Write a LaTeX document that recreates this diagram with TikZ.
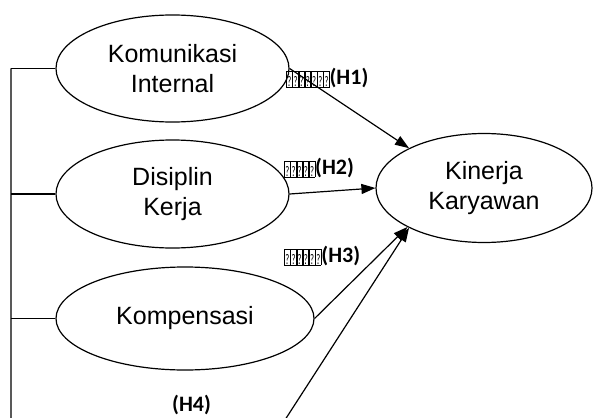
\documentclass[tikz,border=0pt]{standalone}
\usepackage{fontspec}
\usepackage{graphicx}
\setmainfont{Liberation Sans}
\newfontfamily\hypfont{Carlito}
\usetikzlibrary{arrows.meta,shapes.geometric}
% box shown for a glyph the font lacks
\newcommand{\nd}{\raisebox{-2pt}{\setlength{\fboxsep}{0pt}\setlength{\fboxrule}{0.6pt}\fbox{\rule{0pt}{15pt}\makebox[5pt]{\resizebox{4pt}{10pt}{\mdseries ?}}}}}
\begin{document}
\begin{tikzpicture}[x=1pt,y=-1pt,
  var/.style={draw,ellipse,line width=1.2pt,inner sep=0pt,align=center,font=\fontsize{25}{30}\selectfont},
  hyp/.style={inner sep=0pt,anchor=west,font=\hypfont\bfseries\fontsize{22}{22}\selectfont},
  link/.style={line width=1.2pt,-{Triangle[length=14pt,width=10pt]}}]
\useasboundingbox (0,0) rectangle (593,417);
\clip (0,0) rectangle (593,417);
% variables
\node[var,minimum width=233pt,minimum height=107pt] (kom) at (172.5,68.5) {Komunikasi\\Internal};
\node[var,minimum width=233pt,minimum height=108pt] (dis) at (172.5,194) {Disiplin\\Kerja};
\node[var,minimum width=258pt,minimum height=103pt] (komp) at (185,318.5) {Kompensasi};
\node[var,minimum width=216pt,minimum height=109pt] (kin) at (484,188) {Kinerja\\Karyawan};
% left bracket and H4 line
\coordinate (top) at (11,68.5);
\coordinate (bot) at (11,440);
\coordinate (h4s) at (272,440);
\draw[line width=1.2pt] (kom.west) -- (top);
\draw[line width=1.2pt] (dis.west) -- (dis.west -| top);
\draw[line width=1.2pt] (komp.west) -- (komp.west -| top);
\draw[link] (top) -- (bot) -- (h4s) -- (kin.208);
% hypotheses
\draw[link] (kom.east) -- (kin.152);
\draw[link] (dis.east) -- (kin.west);
\draw[link] (komp.east) -- (kin.207);
\node[hyp] (h1) at (286,78) {\nd\nd\nd\nd\nd\nd\nd(H1)};
\node[hyp] (h2) at (284,168) {\nd\nd\nd\nd\nd(H2)};
\node[hyp] (h3) at (284,256) {\nd\nd\nd\nd\nd\nd(H3)};
\node[hyp] (h4) at (172,405) {(H4)};
\end{tikzpicture}
\end{document}
